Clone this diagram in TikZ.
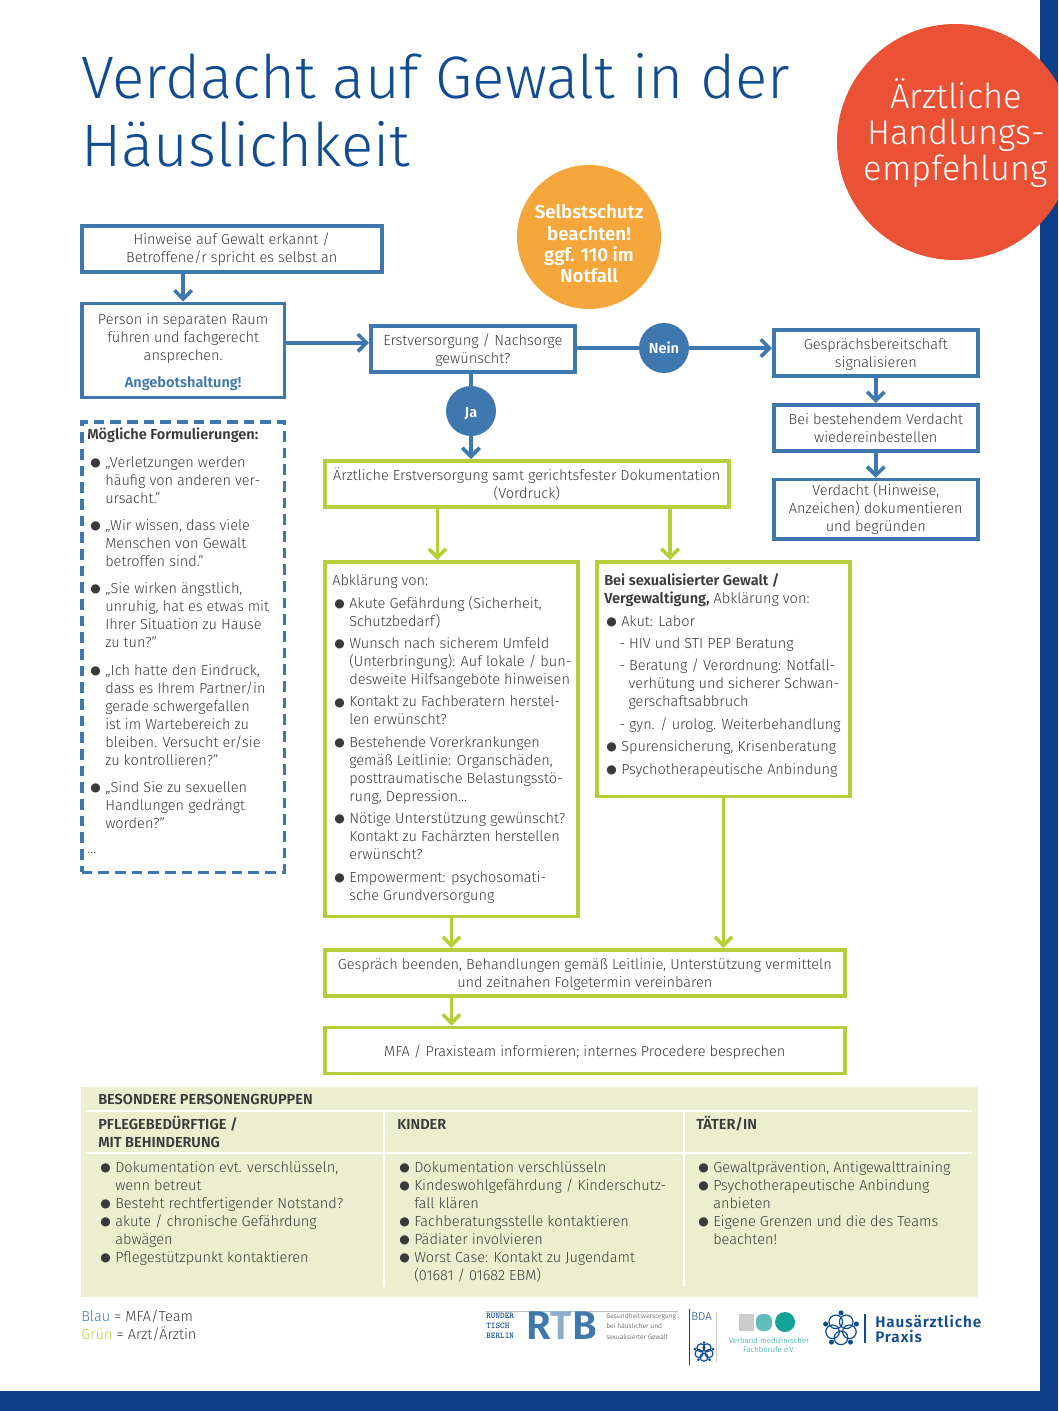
\documentclass[tikz,border=0pt]{standalone}
\usepackage{fontspec}
\usepackage{xcolor}
\usepackage{tikz}
\usetikzlibrary{arrows.meta,positioning}
\setmainfont{Fira Sans Light}[BoldFont=Fira Sans SemiBold]
\newfontfamily\symfont{DejaVu Sans}
\newfontfamily\titlefont{Fira Sans Light}
\definecolor{mfablue}{HTML}{3F78AE}
\definecolor{arztgreen}{HTML}{B7CE3C}
\definecolor{navy}{HTML}{114C92}
\definecolor{barblue}{HTML}{0B3F8A}
\definecolor{ink}{HTML}{3A3A3A}
\definecolor{panelgreen}{HTML}{EBEFCF}
\definecolor{sunorange}{HTML}{F5A73C}
\definecolor{signalred}{HTML}{EB5135}
\definecolor{tealdark}{HTML}{15A299}
\definecolor{teallight}{HTML}{5FBDB9}
\newcommand{\bu}{\leavevmode\llap{\raisebox{.6pt}{\symfont\fontsize{9}{9}\selectfont ●}\hspace{3.4pt}}}
\newcommand{\gap}{\\[3.3pt]}
\newcommand{\formgap}{\\[7pt]}
\newcommand{\capsline}{\vphantom{Ü}}
\newcommand{\lowline}{\rule{0pt}{11pt}}
\tikzset{
  flower/.pic={
    \foreach \a in {90,162,234,306,18}{
      \draw[line width=.9pt, navy] (\a:.52) circle (.40);
      \fill[navy] (\a+36:.95) circle (.15);
    }
  }
}

\begin{document}
\begin{tikzpicture}[
  x=.75pt, y=-.75pt,
  every node/.style={font=\fontsize{10.9}{13.5}\selectfont, text=ink},
  bluebox/.style={draw=mfablue, line width=2.7pt, align=center, inner sep=0pt, fill=white},
  greenbox/.style={draw=arztgreen, line width=2.7pt, align=center, inner sep=0pt, fill=white},
  bluearr/.style={draw=mfablue, line width=2.7pt, -{Straight Barb[length=6.5pt,width=13pt,line width=2.7pt]}},
  greenarr/.style={draw=arztgreen, line width=2.7pt, -{Straight Barb[length=6.5pt,width=13pt,line width=2.7pt]}},
  blueline/.style={draw=mfablue, line width=2.7pt},
  answer/.style={circle, fill=mfablue, minimum size=37.5pt, inner sep=0pt, text=white,
    font=\fontsize{10.9}{13.5}\selectfont\bfseries},
  grouptext/.style={align=left, anchor=north west, inner sep=0pt},
  headtext/.style={align=left, anchor=north west, inner sep=0pt, font=\fontsize{10.9}{13.5}\selectfont\bfseries},
  divider/.style={draw=white, line width=1.8pt}
]
  \useasboundingbox (0,0) rectangle (1058,1411);
  % page frame
  \fill[barblue] (1040,0) rectangle (1058,1411);
  \fill[barblue] (0,1391) rectangle (1058,1411);
  \begin{scope}
    \clip (0,0) rectangle (1058,1411);
    \node[circle, fill=signalred, minimum size=177pt, inner sep=0pt] (badge) at (955,142) {};
  \end{scope}
  \node[align=center, text=white, font=\titlefont\fontsize{25.8}{26.8}\selectfont] (badgetext) at (956,133)
    {Ärztliche\\Handlungs-\\empfehlung};
  \node[anchor=north west, inner sep=0pt, align=left, text=navy,
    font=\titlefont\fontsize{45}{51}\selectfont] (title) at (81,53) {Verdacht auf Gewalt in der\\Häuslichkeit};
  \node[circle, fill=sunorange, minimum size=108pt, inner sep=0pt] (selbstschutz) at (589,237) {};
  \node[align=center, text=white, font=\fontsize{14}{16}\selectfont\bfseries] (selbsttext) at (589,244)
    {Selbstschutz\\beachten!\\ggf. 110 im\\Notfall};

  % left column
  \node[bluebox, anchor=north west, minimum width=225pt, minimum height=34.5pt] (hinweise) at (80,224)
    {\rule{0pt}{9pt}Hinweise auf Gewalt erkannt /\\Betroffene/r spricht es selbst an};
  \node[bluebox, below=21pt of hinweise.south west, anchor=north west, minimum width=152pt, minimum height=70.5pt] (raum)
    {\lowline Person in separaten Raum\\führen und fachgerecht\\ansprechen.\\[7pt]\textcolor{mfablue}{\bfseries Angebotshaltung!}};
  \node[draw=mfablue, line width=2.7pt, dash pattern=on 8pt off 4.5pt, anchor=north west,
    minimum width=152pt, minimum height=338pt] (formulierungen) at (80,420) {};
  \node[grouptext] (formtitel) at (87,428) {\bfseries Mögliche Formulierungen:};
  \node[grouptext] (formtext) at (105,456)
    {\bu „Verletzungen werden\\häufig von anderen ver-\\ursacht.”\formgap
     \bu „Wir wissen, dass viele\\Menschen von Gewalt\\betroffen sind.”\formgap
     \bu „Sie wirken ängstlich,\\unruhig, hat es etwas mit\\Ihrer Situation zu Hause\\zu tun?”\formgap
     \bu „Ich hatte den Eindruck,\\dass es Ihrem Partner/in\\gerade schwergefallen\\ist im Wartebereich zu\\bleiben. Versucht er/sie\\zu kontrollieren?”\formgap
     \bu „Sind Sie zu sexuellen\\Handlungen gedrängt\\worden?”};
  \node[grouptext] (formrest) at (87,852) {...};

  % middle
  \node[bluebox, anchor=north west, minimum width=153pt, minimum height=34.5pt] (erst) at (369,324)
    {\lowline Erstversorgung / Nachsorge\\gewünscht?};
  \node[answer] (ja) at (471,411) {\lowline Ja};
  \node[answer] (nein) at (664,348) {Nein};
  \node[greenbox, anchor=north west, minimum width=303pt, minimum height=34.5pt] (aerztlich) at (323,459)
    {\rule{0pt}{9pt}Ärztliche Erstversorgung samt gerichtsfester Dokumentation\\(Vordruck)};
  \node[greenbox, anchor=north west, minimum width=190pt, minimum height=266pt] (abklaerung) at (323,560) {};
  \node[grouptext] (abkltext) at (349,574)
    {\hspace{-12.7pt}Abklärung von:\\[3.7pt]
     \bu Akute Gefährdung (Sicherheit,\\Schutzbedarf)\gap
     \bu Wunsch nach sicherem Umfeld\\(Unterbringung): Auf lokale / bun-\\desweite Hilfsangebote hinweisen\gap
     \bu Kontakt zu Fachberatern herstel-\\len erwünscht?\gap
     \bu Bestehende Vorerkrankungen\\gemäß Leitlinie: Organschäden,\\posttraumatische Belastungsstö-\\rung, Depression...\gap
     \bu Nötige Unterstützung gewünscht?\\Kontakt zu Fachärzten herstellen\\erwünscht?\gap
     \bu Empowerment: psychosomati-\\sche Grundversorgung};
  \node[greenbox, anchor=north west, minimum width=190pt, minimum height=176pt] (sexuell) at (595,560) {};
  \node[grouptext] (sexueltext) at (621,573)
    {\hspace{-12.75pt}\textbf{Bei sexualisierter Gewalt /}\\\hspace{-12.75pt}\textbf{Vergewaltigung,} Abklärung von:\\[3.7pt]
     \bu Akut: Labor\gap
     \hspace{-1.5pt}- HIV und STI PEP Beratung\gap
     \hspace{-1.5pt}- Beratung / Verordnung: Notfall-\\\hspace{5.5pt}verhütung und sicherer Schwan-\\\hspace{5.5pt}gerschaftsabbruch\gap
     \hspace{-1.5pt}- gyn. / urolog. Weiterbehandlung\gap
     \bu Spurensicherung, Krisenberatung\gap
     \bu Psychotherapeutische Anbindung};
  \node[greenbox, anchor=north west, minimum width=390pt, minimum height=34.5pt] (beenden) at (323,948)
    {\lowline Gespräch beenden, Behandlungen gemäß Leitlinie, Unterstützung vermitteln\\und zeitnahen Folgetermin vereinbaren};
  \node[greenbox, below=21pt of beenden, minimum width=390pt, minimum height=34.5pt] (mfa)
    {\lowline MFA / Praxisteam informieren; internes Procedere besprechen};

  % right column
  \node[bluebox, anchor=north west, minimum width=153pt, minimum height=34.5pt] (bereit) at (772,328)
    {\lowline Gesprächsbereitschaft\\signalisieren};
  \node[bluebox, below=19pt of bereit, minimum width=153pt, minimum height=34.5pt] (wieder)
    {Bei bestehendem Verdacht\\wiedereinbestellen};
  \node[bluebox, below=19pt of wieder, minimum width=153pt, minimum height=44.5pt] (doku)
    {Verdacht (Hinweise,\\Anzeichen) dokumentieren\\und begründen};

  % connectors
  \draw[bluearr] (hinweise.south -| raum.north) -- (raum.north);
  \draw[bluearr] ([yshift=4.5pt]erst.west -| raum.east) -- ([yshift=4.5pt]erst.west);
  \draw[blueline] (erst.south -| ja) -- (ja.north);
  \draw[bluearr] (ja.south) -- (ja |- aerztlich.north);
  \draw[blueline] (nein -| erst.east) -- (nein.west);
  \draw[bluearr] (nein.east) -- (nein -| bereit.west);
  \draw[bluearr] (bereit.south) -- (wieder.north);
  \draw[bluearr] (wieder.south) -- (doku.north);
  \draw[greenarr] ([xshift=-10.5pt]abklaerung.north |- aerztlich.south) -- ([xshift=-10.5pt]abklaerung.north);
  \draw[greenarr] ([xshift=-40pt]sexuell.north |- aerztlich.south) -- ([xshift=-40pt]sexuell.north);
  \draw[greenarr] (abklaerung.south) -- (abklaerung.south |- beenden.north);
  \draw[greenarr] (sexuell.south) -- (sexuell.south |- beenden.north);
  \draw[greenarr] (abklaerung.south |- beenden.south) -- (abklaerung.south |- mfa.north);

  % groups
  \node[fill=panelgreen, anchor=north west, minimum width=672.75pt, minimum height=157.5pt, inner sep=0pt] (panel) at (81,1087) {};
  \draw[divider] (85,1111) -- (972,1111);
  \draw[divider] (85,1153) -- (972,1153);
  \draw[divider] (384,1111) -- (384,1287);
  \draw[divider] (684,1111) -- (684,1287);
  \node[headtext] (gruppen) at (98,1091) {\capsline BESONDERE PERSONENGRUPPEN};
  \node[headtext] (pflege) at (98,1116) {PFLEGEBEDÜRFTIGE /\\MIT BEHINDERUNG};
  \node[headtext] (kinder) at (397,1116) {\capsline KINDER};
  \node[headtext] (taeter) at (696,1116) {\capsline TÄTER/IN};
  \node[grouptext] (pflegetext) at (115,1161)
    {\bu Dokumentation evt. verschlüsseln,\\wenn betreut\\
     \bu Besteht rechtfertigender Notstand?\\
     \bu akute / chronische Gefährdung\\abwägen\\
     \bu Pflegestützpunkt kontaktieren};
  \node[grouptext] (kindertext) at (414,1161)
    {\bu Dokumentation verschlüsseln\\
     \bu Kindeswohlgefährdung / Kinderschutz-\\fall klären\\
     \bu Fachberatungsstelle kontaktieren\\
     \bu Pädiater involvieren\\
     \bu Worst Case: Kontakt zu Jugendamt\\(01681 / 01682 EBM)};
  \node[grouptext] (taetertext) at (713,1161)
    {\bu Gewaltprävention, Antigewalttraining\\
     \bu Psychotherapeutische Anbindung\\anbieten\\
     \bu Eigene Grenzen und die des Teams\\beachten!};

  % legend
  \node[grouptext] (legende) at (81,1310)
    {\textcolor{mfablue}{Blau} = MFA/Team\\\textcolor{arztgreen}{Grün} = Arzt/Ärztin};

  % logos
  \draw[gray!50, line width=.6pt] (486,1311.5) -- (678,1311.5);
  \node[anchor=north west, inner sep=0pt, align=left, text=navy,
    font=\ttfamily\bfseries\fontsize{6.6}{7.4}\selectfont] (rundertisch) at (486,1313) {RUNDER\\TISCH\\BERLIN};
  \node[anchor=west, inner sep=0pt, font=\bfseries\fontsize{30}{30}\selectfont, text=mfablue] (rtb) at (526,1326)
    {R\textcolor{mfablue!60}{T}B};
  \node[anchor=north west, inner sep=0pt, align=left, text=ink,
    font=\fontsize{5}{7.9}\selectfont] (rtbtext) at (606,1313) {Gesundheitsversorgung\\bei häuslicher und\\sexualisierter Gewalt};
  \draw[ink, line width=.6pt] (689,1309) -- (689,1365);
  \draw[gray!40, line width=.6pt] (716,1312) -- (716,1362);
  \node[anchor=north west, inner sep=0pt, font=\fontsize{8.6}{9}\selectfont, text=navy] (bda) at (691,1312) {BDA};
  \pic[scale=10] at (704,1352) {flower};
  \fill[gray!40] (739,1314) rectangle (754,1331);
  \fill[teallight, rounded corners=5pt] (756,1314) rectangle (772,1331);
  \fill[tealdark] (785,1322) circle (7.5pt);
  \node[align=center, text=tealdark, font=\fontsize{5.9}{6.8}\selectfont] (verband) at (769,1345)
    {Verband medizinischer\\Fachberufe e.V.};
  \pic[scale=17] at (841,1329) {flower};
  \draw[navy, line width=.8pt] (865,1314) -- (865,1343);
  \node[anchor=north west, inner sep=0pt, align=left, text=navy,
    font=\bfseries\fontsize{11.5}{11.2}\addfontfeature{LetterSpace=6}\selectfont] (hausarzt) at (875,1315) {Hausärztliche\\Praxis};
\end{tikzpicture}
\end{document}
